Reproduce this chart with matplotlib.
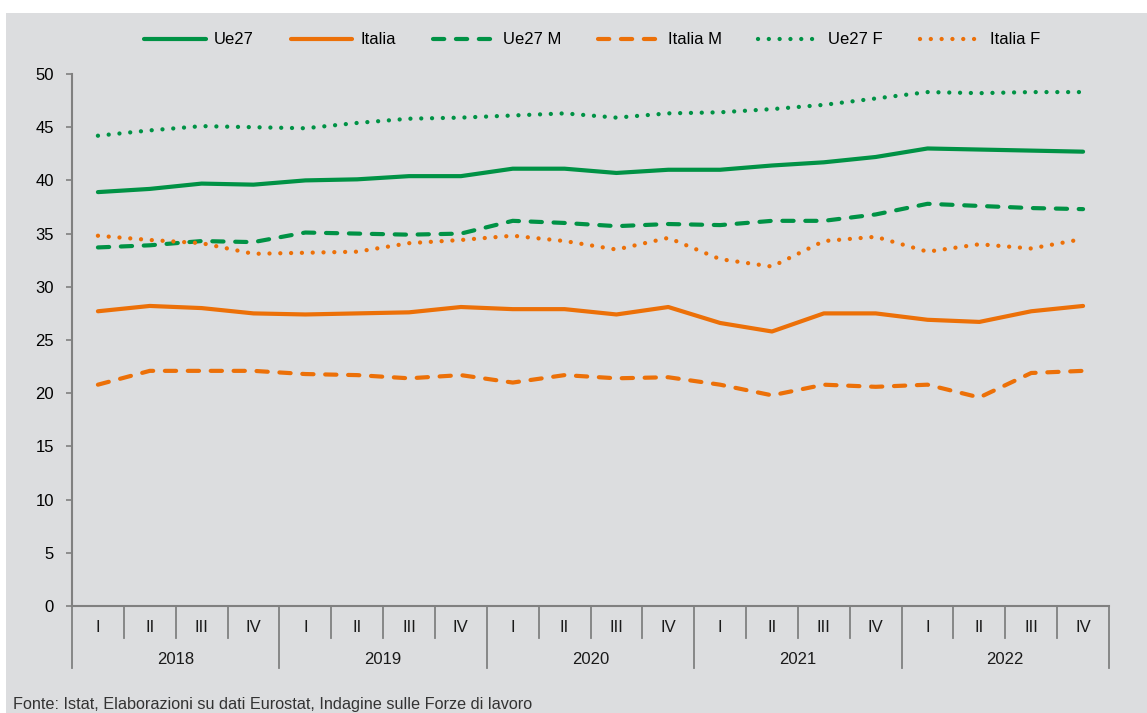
import matplotlib.pyplot as plt
from matplotlib.patches import Rectangle
import matplotlib.transforms as mtransforms

# Data
years = ['2018', '2019', '2020', '2021', '2022']
quarters = ['I', 'II', 'III', 'IV']

ue27 = [38.9, 39.2, 39.7, 39.6, 40.0, 40.1, 40.4, 40.4, 41.1, 41.1,
        40.7, 41.0, 41.0, 41.4, 41.7, 42.2, 43.0, 42.9, 42.8, 42.7]
italia = [27.7, 28.2, 28.0, 27.5, 27.4, 27.5, 27.6, 28.1, 27.9, 27.9,
          27.4, 28.1, 26.6, 25.8, 27.5, 27.5, 26.9, 26.7, 27.7, 28.2]
ue27_m = [33.7, 33.9, 34.3, 34.2, 35.1, 35.0, 34.9, 35.0, 36.2, 36.0,
          35.7, 35.9, 35.8, 36.2, 36.2, 36.8, 37.8, 37.6, 37.4, 37.3]
italia_m = [20.8, 22.1, 22.1, 22.1, 21.8, 21.7, 21.4, 21.7, 21.0, 21.7,
            21.4, 21.5, 20.8, 19.8, 20.8, 20.6, 20.8, 19.6, 21.9, 22.1]
ue27_f = [44.2, 44.7, 45.1, 45.0, 44.9, 45.4, 45.8, 45.9, 46.1, 46.3,
          45.9, 46.3, 46.4, 46.7, 47.1, 47.7, 48.3, 48.2, 48.3, 48.3]
italia_f = [34.8, 34.4, 34.1, 33.1, 33.2, 33.3, 34.1, 34.4, 34.8, 34.3,
            33.5, 34.6, 32.6, 31.9, 34.3, 34.7, 33.3, 34.0, 33.6, 34.5]

green = '#009245'
orange = '#ec7008'
bg = '#dcdddf'
axcol = '#808080'
fs = 12

plt.rcParams['font.family'] = ['Liberation Sans Narrow', 'Liberation Sans', 'DejaVu Sans']

fig = plt.figure(figsize=(11.47, 7.13), dpi=100, facecolor='white')
fig.patches.append(Rectangle((6 / 1147, 0), 1, 1 - 13 / 713, transform=fig.transFigure,
                             facecolor=bg, edgecolor='none', zorder=-1))

ax = fig.add_axes([72 / 1147, 1 - 606 / 713, (1109 - 72) / 1147, (606 - 74) / 713])
ax.set_facecolor('none')

x = list(range(len(ue27)))
lw = 3.0
ax.plot(x, ue27, color=green, lw=lw, solid_capstyle='round', label='Ue27')
ax.plot(x, italia, color=orange, lw=lw, solid_capstyle='round', label='Italia')
ax.plot(x, ue27_m, color=green, lw=lw, dashes=(2.7, 2.8), dash_capstyle='round', label='Ue27 M')
ax.plot(x, italia_m, color=orange, lw=lw, dashes=(2.7, 2.8), dash_capstyle='round', label='Italia M')
ax.plot(x, ue27_f, color=green, lw=3.1, dashes=(0.01, 2.5), dash_capstyle='round', label='Ue27 F')
ax.plot(x, italia_f, color=orange, lw=3.1, dashes=(0.01, 2.5), dash_capstyle='round', label='Italia F')

ax.set_xlim(-0.5, len(x) - 0.5)
ax.set_ylim(0, 50)
ax.set_yticks(range(0, 51, 5))
ax.tick_params(axis='y', length=4, width=1.2, color=axcol, labelsize=fs, pad=9)
ax.set_xticks([])
for s in ['top', 'right']:
    ax.spines[s].set_visible(False)
for s in ['left', 'bottom']:
    ax.spines[s].set_color(axcol)
    ax.spines[s].set_linewidth(1.5)

# two-level category axis
trans = mtransforms.blended_transform_factory(ax.transData, ax.transAxes)
h = (606 - 74)
q_depth = -32 / h
y_depth = -62 / h
for i in range(len(x) + 1):
    depth = y_depth if i % 4 == 0 else q_depth
    ax.plot([i - 0.5, i - 0.5], [0, depth], transform=trans, color=axcol,
            lw=1.3, clip_on=False)
for i in range(len(x)):
    ax.text(i, -21 / h, quarters[i % 4], transform=trans, ha='center', va='center',
            fontsize=fs, color='#1a1a1a')
for j, yr in enumerate(years):
    ax.text(j * 4 + 1.5, -53 / h, yr, transform=trans, ha='center', va='center',
            fontsize=fs, color='#1a1a1a')

fig.legend(loc='center', bbox_to_anchor=(592 / 1147, 1 - 40 / 713), ncol=6, frameon=False,
           fontsize=fs, handlelength=3.7, handletextpad=0.5, columnspacing=2.2)

fig.text(13 / 1147, 1 - 704 / 713, 'Fonte: Istat, Elaborazioni su dati Eurostat, Indagine sulle Forze di lavoro',
         fontsize=11.7, color='#333333', va='center', ha='left')

fig.savefig('out.png', dpi=100, facecolor='white')
